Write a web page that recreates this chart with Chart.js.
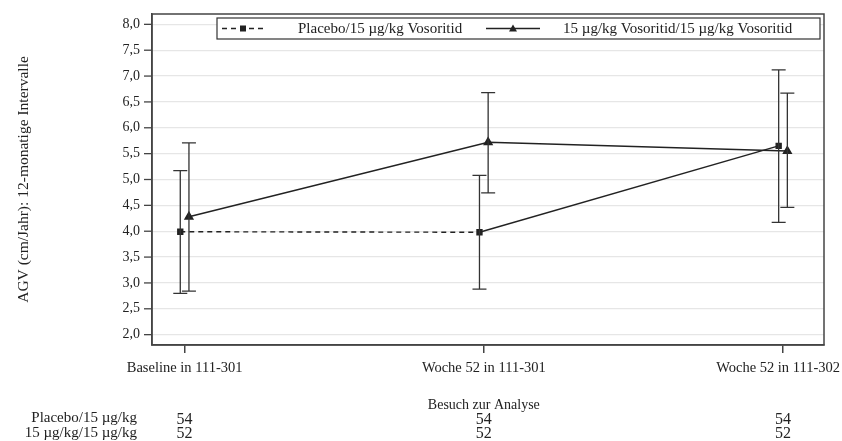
<!DOCTYPE html>
<html>
<head>
<meta charset="utf-8">
<script src="https://cdn.jsdelivr.net/npm/chart.js@4/dist/chart.umd.min.js"></script>
<style>
    html, body { margin: 0; padding: 0; background: #fff; }
    #wrap { width: 842px; height: 441px; }
</style>
</head>
<body>
<div id="wrap"><canvas id="agvChart" width="842" height="441"></canvas></div>
<script>
// visits on the x axis
const visits = ["Baseline in 111-301", "Woche 52 in 111-301", "Woche 52 in 111-302"];
const yTicks = [2.0, 2.5, 3.0, 3.5, 4.0, 4.5, 5.0, 5.5, 6.0, 6.5, 7.0, 7.5, 8.0];

// Placebo/15 µg/kg Vosoritid
const placeboMean = [3.99, 3.98, 5.65];
const placeboLow = [2.80, 2.88, 4.17];
const placeboHigh = [5.17, 5.08, 7.12];

// 15 µg/kg Vosoritid/15 µg/kg Vosoritid
const vosoMean = [4.28, 5.72, 5.55];
const vosoLow = [2.84, 4.74, 4.46];
const vosoHigh = [5.71, 6.68, 6.67];

// patients per visit (table under the axis)
const rowLabels = ["Placebo/15 µg/kg", "15 µg/kg/15 µg/kg"];
const placeboN = [54, 54, 54];
const vosoN = [52, 52, 52];

const ink = "#222";
const serif = "'Liberation Serif', 'DejaVu Serif', serif";
const shift = 0.0145;

const toPoints = (means, dx) => means.map((v, i) => ({x: i + dx, y: v}));

const errorBars = {
    id: "errorBars",
    afterDatasetsDraw(chart) {
        const {ctx, scales: {x, y}} = chart;
        ctx.save();
        ctx.strokeStyle = "#333";
        ctx.lineWidth = 1.3;
        chart.data.datasets.forEach(ds => {
            ds.data.forEach((p, i) => {
                const px = x.getPixelForValue(p.x);
                const top = y.getPixelForValue(ds.high[i]);
                const bottom = y.getPixelForValue(ds.low[i]);
                ctx.beginPath();
                ctx.moveTo(px, top);
                ctx.lineTo(px, bottom);
                ctx.moveTo(px - 7, top);
                ctx.lineTo(px + 7, top);
                ctx.moveTo(px - 7, bottom);
                ctx.lineTo(px + 7, bottom);
                ctx.stroke();
            });
        });
        ctx.restore();
    }
};

const frameAndLegend = {
    id: "frameAndLegend",
    afterDraw(chart) {
        const {ctx, chartArea: a, scales: {x, y}} = chart;
        ctx.save();

        // plot frame
        ctx.strokeStyle = "#444";
        ctx.lineWidth = 1.5;
        ctx.strokeRect(a.left, a.top, a.right - a.left, a.bottom - a.top);

        // y tick marks outside the frame
        ctx.lineWidth = 1.3;
        yTicks.forEach(v => {
            const py = y.getPixelForValue(v);
            ctx.beginPath();
            ctx.moveTo(a.left - 8, py);
            ctx.lineTo(a.left, py);
            ctx.stroke();
        });

        // visit labels, last one kept inside the canvas
        ctx.fillStyle = ink;
        ctx.font = "14.5px " + serif;
        ctx.textAlign = "center";
        ctx.textBaseline = "middle";
        visits.forEach((label, i) => {
            const half = ctx.measureText(label).width / 2;
            const cx = Math.min(x.getPixelForValue(i), chart.width - 2 - half);
            ctx.fillText(label, cx, 368);
        });

        // boxed legend
        const lx = 217, ly = 18, lw = 603, lh = 21;
        ctx.fillStyle = "#fff";
        ctx.fillRect(lx, ly, lw, lh);
        ctx.strokeStyle = "#333";
        ctx.lineWidth = 1.2;
        ctx.strokeRect(lx, ly, lw, lh);
        const cy = ly + lh / 2;

        ctx.strokeStyle = ink;
        ctx.lineWidth = 1.3;
        ctx.setLineDash([5, 4]);
        ctx.beginPath();
        ctx.moveTo(222, cy);
        ctx.lineTo(264, cy);
        ctx.stroke();
        ctx.setLineDash([]);
        ctx.fillStyle = ink;
        ctx.fillRect(240, cy - 3, 6, 6);

        ctx.beginPath();
        ctx.moveTo(486, cy);
        ctx.lineTo(540, cy);
        ctx.stroke();
        ctx.beginPath();
        ctx.moveTo(513, cy - 4);
        ctx.lineTo(517, cy + 3);
        ctx.lineTo(509, cy + 3);
        ctx.closePath();
        ctx.fill();

        ctx.font = "15px " + serif;
        ctx.textAlign = "left";
        ctx.fillText("Placebo/15 µg/kg Vosoritid", 298, cy + 1);
        ctx.fillText("15 µg/kg Vosoritid/15 µg/kg Vosoritid", 563, cy + 1);

        // x axis title and patient table
        ctx.textAlign = "center";
        ctx.font = "14px " + serif;
        ctx.fillText("Besuch zur Analyse", x.getPixelForValue(1), 405);
        ctx.textAlign = "right";
        ctx.font = "15px " + serif;
        ctx.fillText(rowLabels[0], 137, 418);
        ctx.fillText(rowLabels[1], 137, 433);
        ctx.textAlign = "center";
        ctx.font = "16px " + serif;
        placeboN.forEach((n, i) => ctx.fillText(String(n), x.getPixelForValue(i), 420));
        vosoN.forEach((n, i) => ctx.fillText(String(n), x.getPixelForValue(i), 434));

        ctx.restore();
    }
};

new Chart(document.getElementById("agvChart"), {
    type: "line",
    data: {
        datasets: [
            {
                label: "Placebo/15 µg/kg Vosoritid",
                data: toPoints(placeboMean, -shift),
                low: placeboLow,
                high: placeboHigh,
                borderColor: ink,
                backgroundColor: ink,
                borderWidth: 1.4,
                pointStyle: "rect",
                pointRadius: 3.5,
                segment: {
                    borderDash: c => c.p0DataIndex === 0 ? [5, 4] : undefined
                }
            },
            {
                label: "15 µg/kg Vosoritid/15 µg/kg Vosoritid",
                data: toPoints(vosoMean, shift),
                low: vosoLow,
                high: vosoHigh,
                borderColor: ink,
                backgroundColor: ink,
                borderWidth: 1.4,
                pointStyle: "triangle",
                pointRadius: 4.5
            }
        ]
    },
    options: {
        responsive: false,
        animation: false,
        layout: {padding: {top: 14, right: 18, left: 0, bottom: 0}},
        plugins: {
            legend: {display: false},
            tooltip: {enabled: false}
        },
        scales: {
            x: {
                type: "linear",
                min: -0.109,
                max: 2.137,
                afterBuildTicks: axis => {
                    axis.ticks = visits.map((v, i) => ({value: i}));
                },
                afterFit: axis => {
                    axis.height = 96;
                    axis.paddingLeft = 0;
                    axis.paddingRight = 0;
                },
                grid: {
                    display: true,
                    drawOnChartArea: false,
                    drawTicks: true,
                    tickLength: 8,
                    color: "#444",
                    lineWidth: 1.5
                },
                border: {color: "#444", width: 1.5},
                ticks: {
                    display: false
                }
            },
            y: {
                min: 1.8,
                max: 8.2,
                afterBuildTicks: axis => {
                    axis.ticks = yTicks.map(v => ({value: v}));
                },
                afterFit: axis => {
                    axis.width = 152;
                    axis.paddingTop = 0;
                    axis.paddingBottom = 0;
                },
                grid: {
                    color: "#e6e6e6",
                    lineWidth: 1.2,
                    drawTicks: false
                },
                border: {color: "#444", width: 1.5},
                ticks: {
                    color: ink,
                    padding: 12,
                    font: {family: serif, size: 14},
                    callback: v => v.toFixed(1).replace(".", ",")
                },
                title: {
                    display: true,
                    text: "AGV (cm/Jahr): 12-monatige Intervalle",
                    color: ink,
                    padding: {top: 15, bottom: 0},
                    font: {family: serif, size: 15.5}
                }
            }
        }
    },
    plugins: [errorBars, frameAndLegend]
});
</script>
</body>
</html>
